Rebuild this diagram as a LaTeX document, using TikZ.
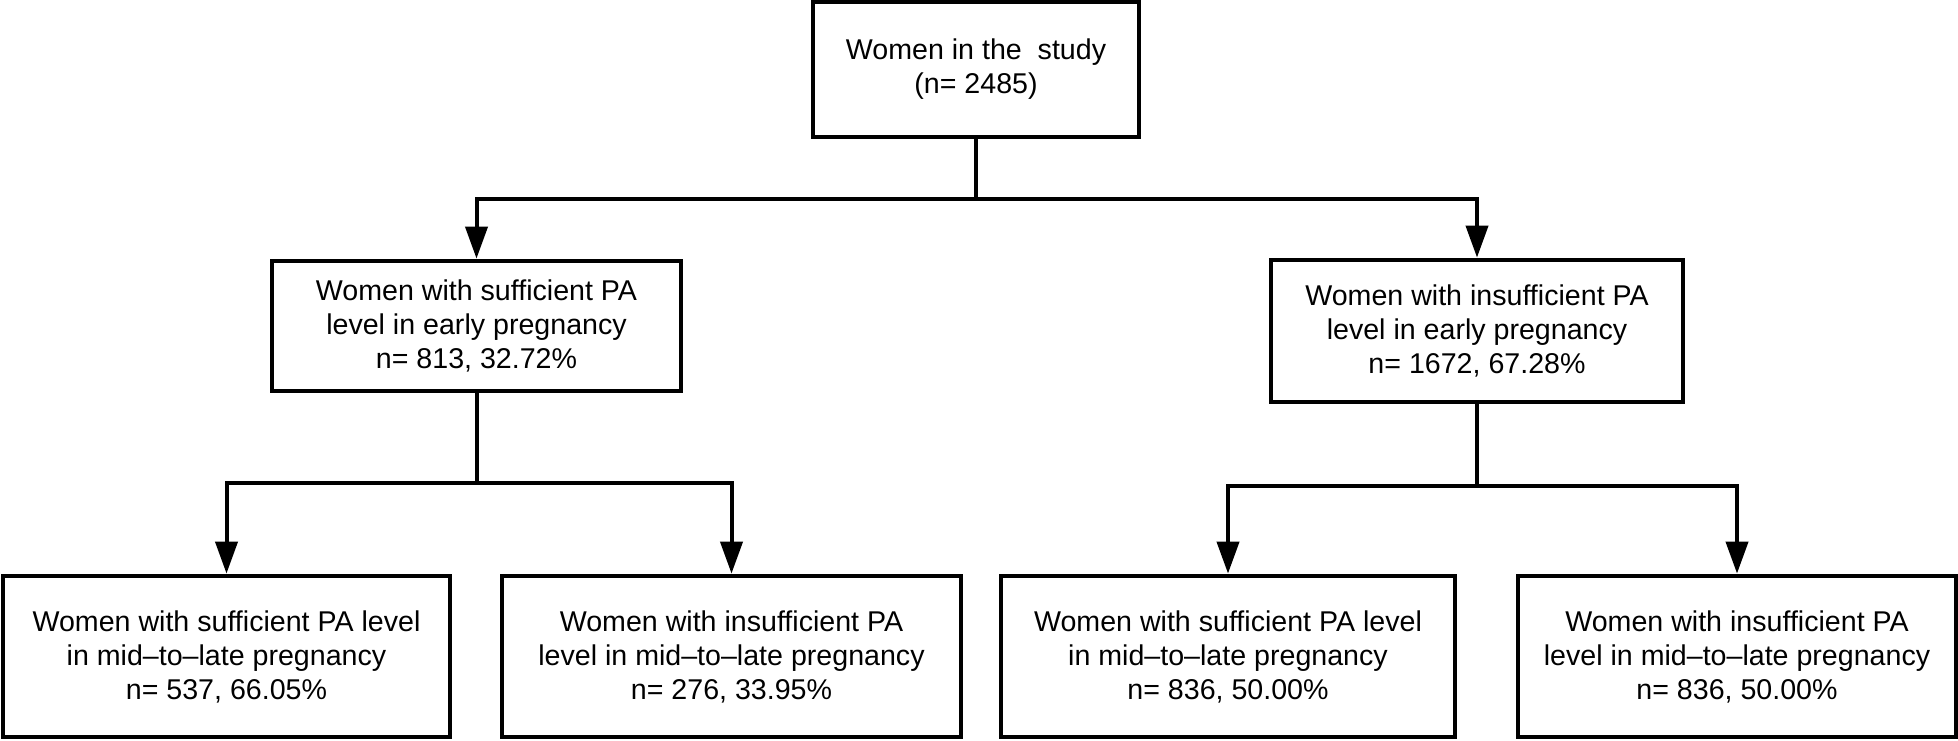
\documentclass[tikz,border=0pt]{standalone}
\usepackage{fontspec}
\setmainfont{Liberation Sans}
\usetikzlibrary{positioning,arrows.meta}

\begin{document}
\begin{tikzpicture}[
				box/.style={rectangle, draw=black, line width=2.4pt, align=center, font=\fontsize{14.3pt}{17pt}\selectfont},
				midbox/.style={box, minimum height=65pt},
				lowbox/.style={box, minimum height=80.5pt},
				link/.style={line width=2pt},
				arrow/.style={line width=2pt, -{Triangle[length=16pt, width=11pt]}}
			]
			\useasboundingbox (0,0) rectangle (979pt,-370pt);
			\node[box, minimum width=163pt, minimum height=67.5pt] (study) at (488pt,-34.75pt) {Women in the\ \ study\\(n= 2485)};
			\node[midbox, minimum width=204.5pt] (earlysuf) at (238.25pt,-163pt) {Women with sufficient PA\\level in early pregnancy\\n= 813, 32.72\%};
			\node[midbox, minimum width=206pt, minimum height=71pt] (earlyins) at (738.5pt,-165.5pt) {Women with insufficient PA\\level in early pregnancy\\n= 1672, 67.28\%};
			\node[lowbox, minimum width=223.5pt] (sufsuf) at (113.25pt,-328.25pt) {Women with sufficient PA level\\in mid–to–late pregnancy\\n= 537, 66.05\%};
			\node[lowbox, minimum width=229.5pt] (sufins) [right=23.6pt of sufsuf] {Women with insufficient PA\\level in mid–to–late pregnancy\\n= 276, 33.95\%};
			\node[lowbox, minimum width=227pt] (inssuf) [right=17.6pt of sufins] {Women with sufficient PA level\\in mid–to–late pregnancy\\n= 836, 50.00\%};
			\node[lowbox, minimum width=219pt] (insins) [right=29.1pt of inssuf] {Women with insufficient PA\\level in mid–to–late pregnancy\\n= 836, 50.00\%};
			\draw[link] (study.south) -- ++(0,-30pt) coordinate (fork1);
			\draw[link] (earlysuf.south) -- ++(0,-45pt) coordinate (fork2);
			\draw[link] (earlyins.south) -- ++(0,-41pt) coordinate (fork3);
			\begin{scope}[arrow]
			\draw (fork1) -| (earlysuf.north);
			\draw (fork1) -| (earlyins.north);
			\draw (fork2) -| (sufsuf.north);
			\draw (fork2) -| (sufins.north);
			\draw (fork3) -| (inssuf.north);
			\draw (fork3) -| (insins.north);
			\end{scope}
			\end{tikzpicture}
\end{document}
